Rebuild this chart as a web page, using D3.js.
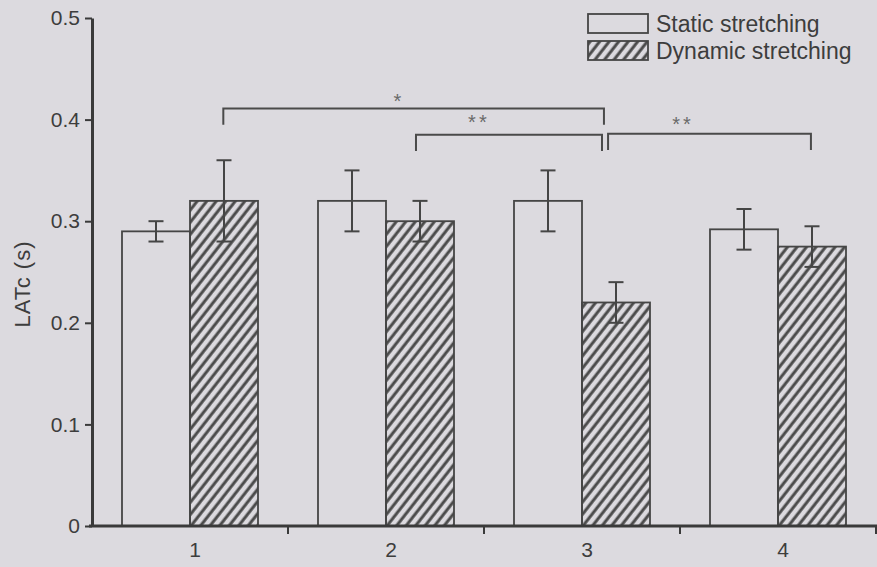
<!DOCTYPE html>
<html>
<head>
<meta charset="utf-8">
<script src="https://cdn.jsdelivr.net/npm/d3@7/dist/d3.min.js"></script>
<style>
  html, body { margin: 0; padding: 0; background: #dcdadf; }
  svg { display: block; }
  text { font-family: "Liberation Sans", Arial, sans-serif; fill: #3d3d3d; }
</style>
</head>
<body>
<svg id="chart" width="877" height="567"></svg>
<script>
// Trial groups and mean LATc per condition (seconds) with error bars
const categories = ["1", "2", "3", "4"];
const staticMeans = [0.29, 0.32, 0.32, 0.292];
const staticErrors = [0.01, 0.03, 0.03, 0.02];
const dynamicMeans = [0.32, 0.30, 0.22, 0.275];
const dynamicErrors = [0.04, 0.02, 0.02, 0.02];
const seriesNames = ["Static stretching", "Dynamic stretching"];
const yTicks = [0, 0.1, 0.2, 0.3, 0.4, 0.5];
const yTickLabels = ["0", "0.1", "0.2", "0.3", "0.4", "0.5"];

// Significance brackets, positions in group units (group i sits at i+1)
const bracketLabels = ["*", "**", "**"];
const bracketStart = [1.17, 2.153, 3.133];
const bracketEnd = [3.112, 3.102, 4.168];
const bracketLevel = [0.411, 0.385, 0.386];
const bracketLabelPos = [2.066, 2.474, 3.515];
const bracketLabelLevel = [0.422, 0.402, 0.400];

const svg = d3.select("#chart");
const margin = { left: 92, right: 1, top: 18, bottom: 41 };
const W = 877, H = 567;

const x = d3.scaleBand()
  .domain(categories)
  .range([margin.left, W - margin.right])
  .paddingInner(0).paddingOuter(0);
const groupPos = d3.scaleLinear()
  .domain([0.5, categories.length + 0.5])
  .range([margin.left, W - margin.right]);
const y = d3.scaleLinear().domain([0, 0.5]).range([H - margin.bottom, margin.top]);

const barW = 68;
const inner = d3.scaleBand().domain(["static", "dynamic"])
  .range([-barW, barW]).padding(0);

// Hatch pattern for the dynamic condition
const defs = svg.append("defs");
defs.append("pattern")
  .attr("id", "hatch")
  .attr("patternUnits", "userSpaceOnUse")
  .attr("width", 7.5).attr("height", 7.5)
  .attr("patternTransform", "rotate(38)")
  .append("line")
  .attr("x1", 2).attr("y1", 0).attr("x2", 2).attr("y2", 7.5)
  .attr("stroke", "#4a4a4a").attr("stroke-width", 3);

const rows = categories.map((c, i) => ({
  cat: c,
  values: [
    { key: "static", mean: staticMeans[i], err: staticErrors[i] },
    { key: "dynamic", mean: dynamicMeans[i], err: dynamicErrors[i] }
  ]
}));

const stroke = "#454545";

// Bars
const groups = svg.append("g").selectAll("g").data(rows).join("g")
  .attr("transform", d => `translate(${x(d.cat) + x.bandwidth() / 2},0)`);

groups.selectAll("rect").data(d => d.values).join("rect")
  .attr("x", d => inner(d.key))
  .attr("y", d => y(d.mean))
  .attr("width", inner.bandwidth())
  .attr("height", d => y(0) - y(d.mean))
  .attr("fill", d => d.key === "dynamic" ? "url(#hatch)" : "none")
  .attr("stroke", stroke)
  .attr("stroke-width", 1.8);

// Error bars
const capW = 15;
const eb = groups.selectAll("g.err").data(d => d.values).join("g")
  .attr("class", "err")
  .attr("transform", d => `translate(${inner(d.key) + inner.bandwidth() / 2},0)`);
eb.append("line")
  .attr("y1", d => y(d.mean - d.err)).attr("y2", d => y(d.mean + d.err))
  .attr("stroke", stroke).attr("stroke-width", 2);
eb.append("line")
  .attr("x1", -capW / 2).attr("x2", capW / 2)
  .attr("y1", d => y(d.mean + d.err)).attr("y2", d => y(d.mean + d.err))
  .attr("stroke", stroke).attr("stroke-width", 2);
eb.append("line")
  .attr("x1", -capW / 2).attr("x2", capW / 2)
  .attr("y1", d => y(d.mean - d.err)).attr("y2", d => y(d.mean - d.err))
  .attr("stroke", stroke).attr("stroke-width", 2);

// Y axis
const yAxis = svg.append("g")
  .attr("transform", `translate(${margin.left},0)`)
  .call(d3.axisLeft(y).tickValues(yTicks).tickFormat((d, i) => yTickLabels[i])
    .tickSize(7).tickSizeOuter(0).tickPadding(5));
yAxis.select(".domain").attr("stroke", "#3a3a3a").attr("stroke-width", 3);
yAxis.selectAll(".tick line").attr("stroke", "#3a3a3a").attr("stroke-width", 2);
yAxis.selectAll(".tick text").style("font-size", "21px").attr("fill", "#3d3d3d")
  .attr("font-family", null);

// X axis with ticks between the groups
const xAxis = svg.append("g")
  .attr("transform", `translate(0,${y(0)})`);
xAxis.append("line")
  .attr("x1", margin.left - 3).attr("x2", W)
  .attr("stroke", "#3a3a3a").attr("stroke-width", 3);
xAxis.selectAll("line.tk").data(categories).join("line")
  .attr("class", "tk")
  .attr("x1", d => x(d) + x.bandwidth()).attr("x2", d => x(d) + x.bandwidth())
  .attr("y1", 0).attr("y2", 8)
  .attr("stroke", "#3a3a3a").attr("stroke-width", 2);
xAxis.selectAll("text").data(categories).join("text")
  .attr("x", d => x(d) + x.bandwidth() / 2 + 5)
  .attr("y", 31)
  .attr("text-anchor", "middle")
  .style("font-size", "21px")
  .text(d => d);

// Y axis title
svg.append("text")
  .attr("transform", `translate(30,${(y(0.5) + y(0)) / 2 + 12}) rotate(-90)`)
  .attr("text-anchor", "middle")
  .style("font-size", "22px")
  .style("letter-spacing", "1px")
  .text("LATc (s)");

// Significance brackets
const legLen = 0.016;
const br = svg.append("g").selectAll("g").data(bracketLabels).join("g");
br.append("path")
  .attr("d", (d, i) => {
    const x0 = groupPos(bracketStart[i]), x1 = groupPos(bracketEnd[i]);
    const yl = y(bracketLevel[i]), yb = y(bracketLevel[i] - legLen);
    return `M${x0},${yb}V${yl}H${x1}V${yb}`;
  })
  .attr("fill", "none").attr("stroke", "#4a4a4a").attr("stroke-width", 2);
br.append("text")
  .attr("x", (d, i) => groupPos(bracketLabelPos[i]))
  .attr("y", (d, i) => y(bracketLabelLevel[i]) + 11)
  .attr("text-anchor", "middle")
  .style("font-size", "20px")
  .style("letter-spacing", "3px")
  .style("fill", "#6a6a6a")
  .text(d => d);

// Legend
const legend = svg.append("g").attr("transform", "translate(588,14)");
const items = legend.selectAll("g").data(seriesNames).join("g")
  .attr("transform", (d, i) => `translate(0,${i * 27})`);
items.append("rect")
  .attr("width", 60).attr("height", 19)
  .attr("fill", (d, i) => i === 1 ? "url(#hatch)" : "none")
  .attr("stroke", stroke).attr("stroke-width", 1.8);
items.append("text")
  .attr("x", 68).attr("y", 18)
  .style("font-size", "23px")
  .text(d => d);
</script>
</body>
</html>
